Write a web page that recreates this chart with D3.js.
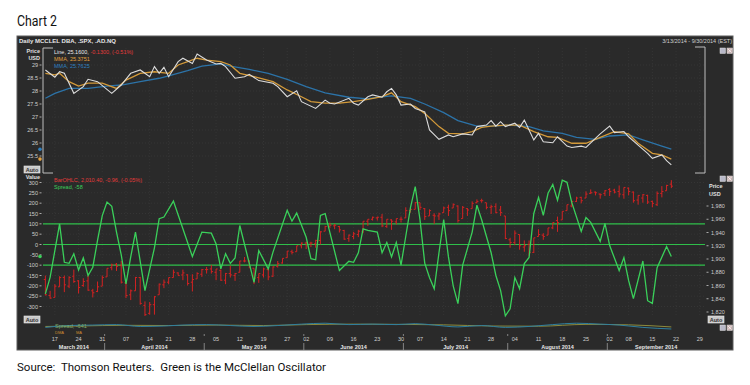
<!DOCTYPE html>
<html>
<head>
<meta charset="utf-8">
<script src="https://cdn.jsdelivr.net/npm/d3@7"></script>
<style>
  body { margin: 0; background: #fff; }
  svg { display: block; }
</style>
</head>
<body>
<svg id="chart" width="750" height="385"></svg>
<script>
// ---------- data ----------
const holidays = ["04-18", "05-26", "07-04", "09-01"];

// DBA close and its two moving averages
const dbaLine = [
  ["03-13", 28.81], ["03-17", 28.53], ["03-18", 28.74], ["03-19", 28.68], ["03-21", 27.91],
  ["03-25", 28.17], ["03-26", 28.45], ["03-28", 28.36], ["04-02", 27.91], ["04-04", 28.23],
  ["04-08", 28.68], ["04-10", 28.81], ["04-14", 28.55], ["04-15", 28.94], ["04-16", 28.68],
  ["04-17", 28.91], ["04-21", 28.55], ["04-23", 29.13], ["04-24", 29.26], ["04-28", 29.06],
  ["04-29", 29.42], ["05-01", 29.19], ["05-05", 29.04], ["05-06", 29.06], ["05-07", 28.94],
  ["05-09", 28.49], ["05-13", 28.55], ["05-14", 28.64], ["05-16", 28.40], ["05-21", 28.30],
  ["05-22", 28.17], ["05-27", 27.78], ["05-29", 28.01], ["05-30", 27.59], ["06-04", 27.33],
  ["06-06", 27.65], ["06-09", 27.53], ["06-10", 27.50], ["06-13", 27.72], ["06-16", 27.53],
  ["06-17", 27.46], ["06-19", 27.78], ["06-20", 27.85], ["06-24", 27.76], ["06-25", 27.97],
  ["06-26", 28.10], ["06-27", 27.85], ["06-30", 27.46], ["07-02", 27.50], ["07-03", 27.33],
  ["07-08", 27.20], ["07-09", 26.50], ["07-11", 26.14], ["07-15", 26.31], ["07-16", 26.24],
  ["07-18", 26.35], ["07-22", 26.31], ["07-23", 26.63], ["07-25", 26.69], ["07-28", 26.86],
  ["07-29", 26.65], ["07-30", 26.82], ["07-31", 26.63], ["08-04", 26.76], ["08-05", 26.60],
  ["08-06", 26.88], ["08-07", 26.50], ["08-08", 26.12], ["08-11", 26.37], ["08-12", 26.05],
  ["08-14", 26.01], ["08-15", 26.24], ["08-19", 25.88], ["08-20", 25.83], ["08-22", 25.88],
  ["08-25", 25.83], ["08-27", 26.18], ["08-28", 26.35], ["09-02", 26.65], ["09-03", 26.40],
  ["09-05", 26.44], ["09-08", 26.24], ["09-10", 25.92], ["09-12", 25.60], ["09-15", 25.41],
  ["09-17", 25.54], ["09-18", 25.32], ["09-19", 25.16]
];
const dbaFastMA = [
  ["03-13", 28.68], ["03-17", 28.62], ["03-18", 28.68], ["03-20", 28.36], ["03-24", 28.19],
  ["03-26", 28.30], ["03-31", 28.30], ["04-03", 28.10], ["04-07", 28.42], ["04-10", 28.68],
  ["04-15", 28.74], ["04-21", 28.68], ["04-23", 29.00], ["04-25", 29.13], ["04-29", 29.26],
  ["05-01", 29.19], ["05-06", 29.13], ["05-08", 29.00], ["05-12", 28.68], ["05-15", 28.55],
  ["05-21", 28.36], ["05-27", 28.04], ["05-30", 27.78], ["06-03", 27.59], ["06-06", 27.53],
  ["06-11", 27.53], ["06-16", 27.59], ["06-19", 27.68], ["06-24", 27.78], ["06-26", 27.93],
  ["06-30", 27.59], ["07-03", 27.40], ["07-08", 27.14], ["07-11", 26.63], ["07-15", 26.37],
  ["07-18", 26.35], ["07-22", 26.44], ["07-24", 26.60], ["07-28", 26.65], ["07-31", 26.69],
  ["08-05", 26.69], ["08-08", 26.44], ["08-13", 26.24], ["08-15", 26.22], ["08-20", 25.99],
  ["08-25", 25.99], ["08-28", 26.22], ["09-03", 26.44], ["09-08", 26.35], ["09-10", 25.99],
  ["09-15", 25.60], ["09-17", 25.54], ["09-19", 25.38]
];
const dbaSlowMA = [
  ["03-13", 27.72], ["03-17", 27.91], ["03-20", 28.10], ["03-26", 28.10], ["04-01", 28.19],
  ["04-04", 28.23], ["04-10", 28.36], ["04-16", 28.49], ["04-21", 28.58], ["04-25", 28.78],
  ["04-30", 28.96], ["05-06", 29.04], ["05-08", 28.96], ["05-14", 28.83], ["05-20", 28.68],
  ["05-27", 28.45], ["06-02", 28.17], ["06-06", 27.93], ["06-13", 27.76], ["06-19", 27.70],
  ["06-23", 27.76], ["06-26", 27.81], ["07-02", 27.72], ["07-08", 27.50], ["07-14", 27.17],
  ["07-17", 26.86], ["07-23", 26.65], ["07-28", 26.65], ["08-01", 26.69], ["08-07", 26.63],
  ["08-12", 26.47], ["08-18", 26.37], ["08-21", 26.22], ["08-27", 26.14], ["09-02", 26.27],
  ["09-08", 26.31], ["09-11", 26.12], ["09-17", 25.88], ["09-19", 25.76]
];

// S&P 500 daily bars: [day, open, high, low, close]
const spxBars = [
  ["03-13",1869,1875,1845,1846],["03-14",1845,1852,1840,1841],["03-17",1842,1862,1842,1859],
  ["03-18",1858,1874,1858,1872],["03-19",1872,1875,1850,1861],["03-20",1859,1874,1856,1872],
  ["03-21",1874,1884,1864,1866],["03-24",1867,1868,1848,1857],["03-25",1860,1871,1858,1866],
  ["03-26",1867,1875,1852,1853],["03-27",1852,1855,1842,1849],["03-28",1851,1866,1850,1858],
  ["03-31",1859,1875,1859,1872],["04-01",1873,1886,1873,1886],["04-02",1887,1893,1883,1891],
  ["04-03",1892,1894,1882,1889],["04-04",1890,1897,1863,1865],["04-07",1864,1865,1841,1845],
  ["04-08",1846,1854,1838,1852],["04-09",1852,1873,1852,1872],["04-10",1872,1873,1831,1833],
  ["04-11",1830,1836,1814,1816],["04-14",1818,1835,1816,1831],["04-15",1831,1844,1816,1843],
  ["04-16",1846,1863,1846,1862],["04-17",1861,1869,1856,1865],["04-21",1865,1872,1862,1872],
  ["04-22",1872,1884,1872,1880],["04-23",1879,1880,1875,1875],["04-24",1876,1884,1868,1879],
  ["04-25",1876,1877,1860,1863],["04-28",1865,1877,1851,1869],["04-29",1870,1880,1870,1878],
  ["04-30",1877,1885,1873,1884],["05-01",1884,1888,1878,1884],["05-02",1885,1891,1878,1881],
  ["05-05",1880,1885,1868,1885],["05-06",1883,1884,1867,1868],["05-07",1868,1879,1862,1878],
  ["05-08",1878,1890,1872,1876],["05-09",1875,1879,1867,1878],["05-12",1880,1897,1880,1897],
  ["05-13",1897,1903,1895,1897],["05-14",1897,1898,1886,1888],["05-15",1886,1886,1862,1871],
  ["05-16",1872,1878,1864,1878],["05-19",1876,1887,1872,1885],["05-20",1884,1886,1868,1873],
  ["05-21",1874,1889,1873,1888],["05-22",1889,1897,1887,1893],["05-23",1894,1901,1893,1901],
  ["05-27",1902,1912,1902,1912],["05-28",1911,1914,1907,1910],["05-29",1911,1920,1911,1920],
  ["05-30",1920,1925,1916,1924],["06-02",1924,1926,1915,1925],["06-03",1924,1926,1918,1924],
  ["06-04",1923,1929,1917,1928],["06-05",1928,1942,1922,1941],["06-06",1942,1950,1942,1949],
  ["06-09",1949,1955,1947,1951],["06-10",1950,1953,1945,1951],["06-11",1949,1950,1940,1944],
  ["06-12",1943,1944,1929,1930],["06-13",1931,1937,1926,1936],["06-16",1934,1941,1930,1938],
  ["06-17",1937,1944,1933,1942],["06-18",1942,1957,1939,1957],["06-19",1957,1960,1950,1960],
  ["06-20",1960,1964,1958,1963],["06-23",1962,1964,1958,1963],["06-24",1963,1968,1948,1950],
  ["06-25",1949,1960,1947,1960],["06-26",1959,1960,1944,1957],["06-27",1956,1961,1952,1961],
  ["06-30",1960,1964,1955,1960],["07-01",1962,1978,1962,1973],["07-02",1973,1976,1970,1975],
  ["07-03",1975,1986,1975,1985],["07-07",1985,1985,1974,1978],["07-08",1976,1977,1959,1964],
  ["07-09",1965,1975,1965,1973],["07-10",1966,1969,1953,1965],["07-11",1965,1970,1959,1968],
  ["07-14",1970,1979,1970,1977],["07-15",1978,1982,1965,1973],["07-16",1977,1984,1977,1982],
  ["07-17",1980,1981,1955,1958],["07-18",1961,1980,1961,1978],["07-21",1976,1977,1965,1974],
  ["07-22",1976,1987,1976,1984],["07-23",1985,1990,1984,1987],["07-24",1988,1991,1985,1988],
  ["07-25",1985,1985,1975,1978],["07-28",1978,1982,1968,1979],["07-29",1979,1984,1969,1970],
  ["07-30",1974,1980,1965,1970],["07-31",1965,1965,1930,1931],["08-01",1929,1932,1917,1925],
  ["08-04",1925,1943,1921,1939],["08-05",1937,1937,1914,1920],["08-06",1918,1928,1911,1920],
  ["08-07",1922,1928,1905,1910],["08-08",1910,1932,1909,1932],["08-11",1934,1945,1934,1937],
  ["08-12",1936,1939,1929,1934],["08-13",1936,1947,1936,1947],["08-14",1947,1955,1945,1955],
  ["08-15",1958,1964,1941,1955],["08-18",1959,1972,1959,1972],["08-19",1973,1982,1973,1982],
  ["08-20",1980,1988,1978,1987],["08-21",1987,1994,1986,1992],["08-22",1993,1994,1984,1988],
  ["08-25",1992,2002,1992,1998],["08-26",1999,2005,1998,2000],["08-27",2001,2002,1996,2000],
  ["08-28",1998,1999,1991,1997],["08-29",1999,2004,1995,2003],["09-02",2005,2007,1995,2002],
  ["09-03",2004,2006,1999,2001],["09-04",2002,2011,1993,1998],["09-05",1997,2008,1991,2008],
  ["09-08",2007,2008,1996,2002],["09-09",2001,2002,1985,1988],["09-10",1989,1996,1982,1996],
  ["09-11",1992,1998,1985,1997],["09-12",1996,1997,1983,1986],["09-15",1987,1988,1978,1984],
  ["09-16",1982,2002,1980,1999],["09-17",1999,2010,1993,2002],["09-18",2003,2012,2003,2011],
  ["09-19",2013,2019,2007,2010]
];

// McClellan oscillator (green "Spread")
const oscillator = [
  ["03-13",-239],["03-14",-159],["03-18",100],["03-19",-86],["03-20",-91],["03-21",-45],
  ["03-24",-123],["03-25",-65],["03-26",-150],["03-27",-110],["03-28",20],["03-31",140],
  ["04-01",205],["04-02",185],["04-03",60],["04-04",-50],["04-07",-191],["04-08",-60],
  ["04-09",60],["04-11",-223],["04-15",-16],["04-16",125],["04-17",133],["04-22",210],
  ["04-24",76],["04-28",-58],["04-30",60],["05-02",55],["05-05",3],["05-06",-118],
  ["05-07",-45],["05-08",-91],["05-09",-65],["05-12",92],["05-15",-183],["05-16",-29],
  ["05-20",-118],["05-21",-37],["05-27",165],["05-28",113],["05-29",152],["06-02",35],
  ["06-03",-69],["06-04",-74],["06-05",141],["06-06",149],["06-11",-126],["06-13",-81],
  ["06-16",-86],["06-17",-40],["06-18",76],["06-19",68],["06-23",60],["06-24",-40],
  ["06-25",10],["06-26",-60],["06-27",10],["06-30",-100],["07-01",40],["07-02",180],
  ["07-03",280],["07-07",120],["07-08",-90],["07-09",-160],["07-10",-214],["07-11",-40],
  ["07-14",120],["07-15",-60],["07-16",-200],["07-17",-286],["07-18",-100],["07-21",-20],
  ["07-22",60],["07-23",190],["07-24",120],["07-25",40],["07-28",-40],["07-29",-150],
  ["07-30",-223],["07-31",-345],["08-01",-311],["08-04",-160],["08-05",-214],
  ["08-06",-92],["08-07",-63],["08-08",150],["08-11",228],["08-12",141],["08-13",248],
  ["08-14",291],["08-15",214],["08-18",311],["08-19",301],["08-20",204],["08-22",63],
  ["08-25",131],["08-26",107],["08-28",15],["08-29",102],["09-02",-5],["09-04",-126],
  ["09-05",-63],["09-08",-175],["09-09",-262],["09-11",-80],["09-12",-272],["09-15",-285],
  ["09-16",-112],["09-18",-10],["09-19",-58]
];

// bottom strip: spread summation and its average
const summation = [
  ["03-13",-300],["03-20",100],["03-27",200],["04-03",300],["04-10",-100],["04-17",0],
  ["04-24",200],["05-01",300],["05-08",100],["05-15",-100],["05-22",100],["05-30",400],
  ["06-06",600],["06-13",300],["06-20",400],["06-27",300],["07-03",500],["07-10",200],
  ["07-17",-200],["07-24",100],["07-31",-300],["08-07",-100],["08-14",300],["08-21",600],
  ["08-28",400],["09-04",200],["09-11",-300],["09-19",-641]
];
const summationMA = [
  ["03-13",-100],["03-24",0],["04-07",150],["04-21",100],["05-05",200],["05-19",100],
  ["06-02",300],["06-16",400],["06-30",350],["07-14",250],["07-28",0],["08-11",-50],
  ["08-25",350],["09-08",250],["09-19",-200]
];

const topTicks = [29, 28.5, 28, 27.5, 27, 26.5, 26, 25.5];
const valueTicks = [300, 250, 200, 150, 100, 50, 0, -50, -100, -150, -200, -250, -300];
const priceTicks = [1980, 1960, 1940, 1920, 1900, 1880, 1860, 1840, 1820];
const refLevels = [100, 0, -100];

// ---------- setup ----------
const svg = d3.select("#chart");
const FONT = "'Liberation Sans', Arial, sans-serif";

const fmtKey = d3.timeFormat("%m-%d");
const tradingDays = d3.timeDay.range(new Date(2014, 2, 13), new Date(2014, 9, 1))
  .filter(d => d.getDay() !== 0 && d.getDay() !== 6 && !holidays.includes(fmtKey(d)));
const dayIndex = new Map(tradingDays.map((d, i) => [fmtKey(d), i]));

const x = d3.scaleLinear().domain([-0.5, tradingDays.length - 0.9]).range([43, 705]);
const xd = key => x(dayIndex.get(key));

const yTop = d3.scaleLinear().domain([25.5, 29]).range([156, 65]);
const yVal = d3.scaleLinear().domain([-300, 300]).range([306.5, 182.5]);
const yPx = d3.scaleLinear().domain([1820, 1980]).range([312, 206]);
const ySum = d3.scaleLinear().domain([-1500, 1500]).range([333, 319]);

// week starts for ticks / grid
const weekStarts = tradingDays.filter((d, i) => i > 0 &&
  +d3.timeMonday.floor(d) !== +d3.timeMonday.floor(tradingDays[i - 1]));
const monthStarts = tradingDays.filter((d, i) => i > 0 && d.getMonth() !== tradingDays[i - 1].getMonth());

// ---------- page captions ----------
svg.append("text").attr("x", 17).attr("y", 26)
  .attr("font-family", "Roboto, 'Open Sans', sans-serif").attr("font-size", 14.5)
  .attr("textLength", 40).attr("lengthAdjust", "spacingAndGlyphs")
  .attr("fill", "#111").text("Chart 2");

svg.append("text").attr("x", 17).attr("y", 371)
  .attr("font-family", "Roboto, 'Open Sans', sans-serif").attr("font-size", 11.5)
  .attr("textLength", 309).attr("lengthAdjust", "spacingAndGlyphs")
  .attr("fill", "#111").style("white-space", "pre")
  .text("Source:  Thomson Reuters.  Green is the McClellan Oscillator");

// ---------- dark panel ----------
svg.append("rect").attr("x", 17).attr("y", 36).attr("width", 716).attr("height", 314)
  .attr("fill", "#2a2a2a").attr("stroke", "#5c5c5c").attr("stroke-width", 1);

svg.append("text").attr("x", 19).attr("y", 43).attr("font-family", FONT)
  .attr("font-size", 6).attr("font-weight", "bold").attr("fill", "#e6e6e6")
  .text("Daily MCCLEL DBA, .SPX, .AD.NQ");
svg.append("text").attr("x", 732).attr("y", 43).attr("text-anchor", "end").attr("font-family", FONT)
  .attr("font-size", 5.5).attr("fill", "#d0d0d0")
  .text("3/13/2014 - 9/30/2014 (EST)");

// ---------- grid ----------
const grid = svg.append("g").attr("stroke", "#3d3d3d").attr("stroke-width", 0.6)
  .attr("stroke-dasharray", "1,2");
[[48, 173], [176, 316]].forEach(([a, b]) => {
  grid.selectAll(null).data(weekStarts).join("line")
    .attr("x1", d => x(dayIndex.get(fmtKey(d)))).attr("x2", d => x(dayIndex.get(fmtKey(d))))
    .attr("y1", a).attr("y2", b);
});
grid.selectAll(null).data(topTicks).join("line")
  .attr("x1", 43).attr("x2", 705).attr("y1", d => yTop(d)).attr("y2", d => yTop(d));
grid.selectAll(null).data(valueTicks).join("line")
  .attr("x1", 43).attr("x2", 705).attr("y1", d => yVal(d)).attr("y2", d => yVal(d));

// ---------- top pane ----------
svg.append("clipPath").attr("id", "clipTop").append("rect")
  .attr("x", 43).attr("y", 48).attr("width", 662).attr("height", 125);

const lineTop = d3.line().x(d => xd(d[0])).y(d => yTop(d[1]));
const topG = svg.append("g").attr("clip-path", "url(#clipTop)").attr("fill", "none");
topG.append("path").attr("d", lineTop(dbaSlowMA)).attr("stroke", "#2c73a8").attr("stroke-width", 1.3);
topG.append("path").attr("d", lineTop(dbaFastMA)).attr("stroke", "#d39a3a").attr("stroke-width", 1.3);
topG.append("path").attr("d", lineTop(dbaLine)).attr("stroke", "#dcdcdc").attr("stroke-width", 1.1);

// brackets
const brk = svg.append("g").attr("fill", "none").attr("stroke", "#bdbdbd").attr("stroke-width", 1);
brk.append("path").attr("d", "M53,48H43V173H53");
brk.append("path").attr("d", "M695,47H705V173H695");

// left axis
const axT = svg.append("g").attr("font-family", FONT).attr("font-size", 5.5).attr("fill", "#cfcfcf");
axT.selectAll(null).data(topTicks).join("text")
  .attr("x", 38).attr("y", d => yTop(d) + 2).attr("text-anchor", "end").text(d => d);
svg.append("g").attr("stroke", "#aaa").selectAll(null).data(topTicks).join("line")
  .attr("x1", 39.5).attr("x2", 41.5).attr("y1", d => yTop(d)).attr("y2", d => yTop(d));
axT.append("text").attr("x", 40).attr("y", 53).attr("text-anchor", "end")
  .attr("font-weight", "bold").attr("fill", "#e0e0e0").text("Price");
axT.append("text").attr("x", 40).attr("y", 60).attr("text-anchor", "end")
  .attr("font-weight", "bold").attr("fill", "#e0e0e0").text("USD");

// legend
const lg = svg.append("g").attr("font-family", FONT).attr("font-size", 5.5);
const l1 = lg.append("text").attr("x", 54).attr("y", 54);
l1.append("tspan").attr("fill", "#e8e8e8").text("Line, 25.1600, ");
l1.append("tspan").attr("fill", "#e23b3b").text("-0.1300, (-0.51%)");
lg.append("text").attr("x", 54).attr("y", 61).attr("fill", "#e0a040").text("MMA, 25.3751");
lg.append("text").attr("x", 54).attr("y", 68).attr("fill", "#2f80c0").text("MMA, 25.7625");

// ---------- lower pane ----------
svg.append("clipPath").attr("id", "clipLow").append("rect")
  .attr("x", 43).attr("y", 176).attr("width", 662).attr("height", 142);
const lowG = svg.append("g").attr("clip-path", "url(#clipLow)");

lowG.selectAll(null).data(refLevels).join("line")
  .attr("x1", 43).attr("x2", 705).attr("y1", d => yVal(d)).attr("y2", d => yVal(d))
  .attr("stroke", "#2fbf4a").attr("stroke-width", 1.2);

const bars = lowG.append("g").attr("stroke", "#d42222").attr("stroke-width", 1);
bars.selectAll(null).data(spxBars).join("path")
  .attr("d", d => {
    const cx = xd(d[0]);
    return `M${cx},${yPx(d[2])}V${yPx(d[3])}M${cx - 1.6},${yPx(d[1])}H${cx}M${cx},${yPx(d[4])}H${cx + 1.6}`;
  });

lowG.append("path").attr("fill", "none").attr("stroke", "#3ad05a").attr("stroke-width", 1.3)
  .attr("d", d3.line().x(d => xd(d[0])).y(d => yVal(d[1]))(oscillator));

// left value axis
const axV = svg.append("g").attr("font-family", FONT).attr("font-size", 5.5).attr("fill", "#cfcfcf");
axV.selectAll(null).data(valueTicks).join("text")
  .attr("x", 38).attr("y", d => yVal(d) + 2).attr("text-anchor", "end").text(d => d);
svg.append("g").attr("stroke", "#aaa").selectAll(null).data(valueTicks).join("line")
  .attr("x1", 39.5).attr("x2", 41.5).attr("y1", d => yVal(d)).attr("y2", d => yVal(d));
axV.append("text").attr("x", 40).attr("y", 179).attr("text-anchor", "end")
  .attr("font-weight", "bold").attr("fill", "#e0e0e0").text("Value");

// right price axis
const fmtPx = d3.format(",");
const axP = svg.append("g").attr("font-family", FONT).attr("font-size", 5.5).attr("fill", "#cfcfcf");
axP.selectAll(null).data(priceTicks).join("text")
  .attr("x", 711).attr("y", d => yPx(d) + 2).text(d => fmtPx(d));
svg.append("g").attr("stroke", "#aaa").selectAll(null).data(priceTicks).join("line")
  .attr("x1", 706.5).attr("x2", 708.5).attr("y1", d => yPx(d)).attr("y2", d => yPx(d));
axP.append("text").attr("x", 709).attr("y", 188).attr("font-weight", "bold").attr("fill", "#e0e0e0").text("Price");
axP.append("text").attr("x", 709).attr("y", 196).attr("font-weight", "bold").attr("fill", "#e0e0e0").text("USD");

const lg2 = svg.append("g").attr("font-family", FONT).attr("font-size", 5.5);
lg2.append("text").attr("x", 54).attr("y", 182).attr("fill", "#e23b3b").text("BarOHLC, 2,010.40, -0.96, (-0.05%)");
lg2.append("text").attr("x", 54).attr("y", 189).attr("fill", "#3ad05a").text("Spread, -58");

// last-value markers on the left edge
const last = arr => arr[arr.length - 1][1];
svg.append("circle").attr("cx", 40).attr("cy", yTop(last(dbaSlowMA))).attr("r", 1.8).attr("fill", "#2f80c0");
svg.append("circle").attr("cx", 40).attr("cy", yTop(last(dbaFastMA))).attr("r", 1.8).attr("fill", "#e0a040");
svg.append("circle").attr("cx", 40).attr("cy", yVal(last(oscillator))).attr("r", 1.8).attr("fill", "#3ad05a");

// ---------- bottom strip ----------
const lineSum = d3.line().x(d => xd(d[0])).y(d => ySum(d[1])).curve(d3.curveMonotoneX);
svg.append("path").attr("fill", "none").attr("stroke", "#8c8a3c").attr("stroke-width", 1)
  .attr("d", lineSum(summationMA));
svg.append("path").attr("fill", "none").attr("stroke", "#2f7f9f").attr("stroke-width", 1)
  .attr("d", lineSum(summation));
svg.append("text").attr("x", 55).attr("y", 328).attr("font-family", FONT).attr("font-size", 5.5)
  .attr("fill", "#7fae6a").text("Spread, -641");
svg.append("text").attr("x", 55).attr("y", 334).attr("font-family", FONT).attr("font-size", 4)
  .attr("fill", "#d08a30").text("DMA");
svg.append("text").attr("x", 76).attr("y", 334).attr("font-family", FONT).attr("font-size", 4)
  .attr("fill", "#d08a30").text("MA");

// ---------- x axis ----------
const fmtDay = d3.timeFormat("%d");
svg.append("g").attr("font-family", FONT).attr("font-size", 5.5).attr("fill", "#cfcfcf")
  .selectAll(null).data(weekStarts).join("text")
  .attr("x", d => x(dayIndex.get(fmtKey(d)))).attr("y", 341).attr("text-anchor", "middle")
  .text(d => fmtDay(d));

const monthEdges = [x.range()[0], ...monthStarts.map(d => x(dayIndex.get(fmtKey(d)) - 0.5)), x.range()[1]];
const months = d3.range(monthEdges.length - 1).map(i => ({
  a: monthEdges[i], b: monthEdges[i + 1],
  label: d3.timeFormat("%B %Y")(i === 0 ? tradingDays[0] : monthStarts[i - 1])
}));
svg.append("g").attr("font-family", FONT).attr("font-size", 5.5).attr("font-weight", "bold")
  .attr("fill", "#e6e6e6").selectAll(null).data(months).join("text")
  .attr("x", d => (d.a + d.b) / 2).attr("y", 348.5).attr("text-anchor", "middle").text(d => d.label);
svg.append("g").attr("stroke", "#9a9a9a").attr("stroke-width", 0.8)
  .selectAll(null).data(monthEdges.slice(1, -1)).join("path")
  .attr("d", d => `M${d},343V350M${d},334V336`);

// ---------- buttons ----------
function autoBtn(x0, y0) {
  svg.append("rect").attr("x", x0).attr("y", y0).attr("width", 16).attr("height", 7)
    .attr("fill", "#c9c9c9").attr("stroke", "#eee").attr("stroke-width", 0.6);
  svg.append("text").attr("x", x0 + 8).attr("y", y0 + 5.6).attr("text-anchor", "middle")
    .attr("font-family", FONT).attr("font-size", 5.5).attr("font-weight", "bold")
    .attr("fill", "#333").text("Auto");
}
autoBtn(24, 166);
autoBtn(24, 316);
autoBtn(708, 316);

function winBtns(x0, y0) {
  svg.append("rect").attr("x", x0).attr("y", y0).attr("width", 5.5).attr("height", 5.5)
    .attr("fill", "#b8b8c8").attr("stroke", "#ddd").attr("stroke-width", 0.5);
  svg.append("rect").attr("x", x0 + 7).attr("y", y0).attr("width", 5.5).attr("height", 5.5)
    .attr("fill", "#c8b0b0").attr("stroke", "#ddd").attr("stroke-width", 0.5);
  svg.append("path").attr("d", `M${x0 + 8},${y0 + 1}l3.5,3.5M${x0 + 11.5},${y0 + 1}l-3.5,3.5`)
    .attr("stroke", "#fff").attr("stroke-width", 0.7);
}
winBtns(720, 48);
winBtns(720, 176);
winBtns(720, 325);
</script>
</body>
</html>
